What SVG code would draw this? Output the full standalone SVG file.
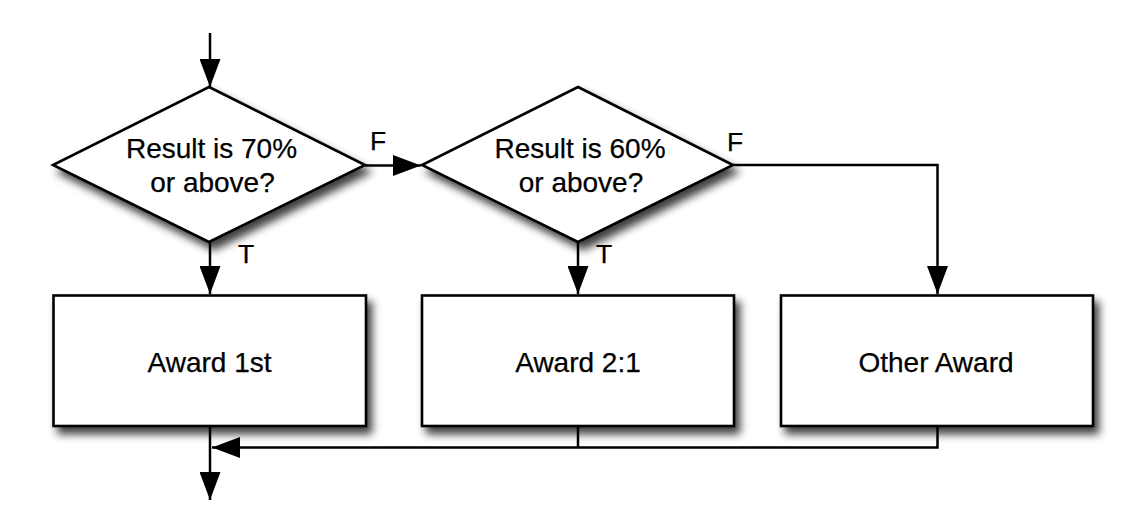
<svg xmlns="http://www.w3.org/2000/svg" width="1122" height="518" viewBox="0 0 1122 518">
<style>
.shape{fill:#ffffff;stroke:#000000;stroke-width:2.6;filter:url(#sh)}
.conn{fill:none;stroke:#000000;stroke-width:2.5}
.txt{font-family:"Liberation Sans",Arial,sans-serif;font-size:28px;fill:#000000;stroke:#000000;stroke-width:0.25;text-anchor:middle}
.lbl{font-family:"Liberation Sans",Arial,sans-serif;font-size:26.5px;fill:#000000;stroke:#000000;stroke-width:0.25}
</style>
<defs>
<filter id="sh" x="-10%" y="-10%" width="125%" height="135%">
<feDropShadow dx="5" dy="7" stdDeviation="4.5" flood-color="#000000" flood-opacity="0.75"/>
</filter>
<marker id="ah" markerUnits="userSpaceOnUse" markerWidth="28" markerHeight="21" refX="28" refY="10.5" orient="auto">
<path d="M0,0 L28,10.5 L0,21 z" fill="#000000"/>
</marker>
</defs>
<g id="d1">
<polygon class="shape" points="209,87 365,165 209,242 53,165"/>
<text class="txt" x="211.5" y="157.5">Result is 70%</text>
<text class="txt" x="212.5" y="192">or above?</text>
</g>
<g id="d2">
<polygon class="shape" points="578,87 733,165 578,242 422,165"/>
<text class="txt" x="580" y="157.5">Result is 60%</text>
<text class="txt" x="581" y="192">or above?</text>
</g>
<g id="b1">
<rect class="shape" x="53.5" y="295.5" width="312.5" height="130.5"/>
<text class="txt" x="209.5" y="372">Award 1st</text>
</g>
<g id="b2">
<rect class="shape" x="422" y="295.5" width="312" height="130.5"/>
<text class="txt" x="578" y="372">Award 2:1</text>
</g>
<g id="b3">
<rect class="shape" x="781" y="295.5" width="312" height="130.5"/>
<text class="txt" x="936" y="372">Other Award</text>
</g>
<g id="connectors">
<line class="conn" x1="210" y1="33" x2="210" y2="87" marker-end="url(#ah)"/>
<line class="conn" x1="365" y1="165.5" x2="421" y2="165.5" marker-end="url(#ah)"/>
<line class="conn" x1="210" y1="242" x2="210" y2="294" marker-end="url(#ah)"/>
<line class="conn" x1="578" y1="242" x2="578" y2="294" marker-end="url(#ah)"/>
<polyline class="conn" points="733,165 937.5,165 937.5,294" marker-end="url(#ah)"/>
<polyline class="conn" points="937.5,426 937.5,447.5 212,447.5" marker-end="url(#ah)"/>
<line class="conn" x1="578" y1="426" x2="578" y2="447.5"/>
<line class="conn" x1="210" y1="426" x2="210" y2="500" marker-end="url(#ah)"/>
<text class="lbl" x="370" y="150">F</text>
<text class="lbl" x="727" y="150.5">F</text>
<text class="lbl" x="238" y="263">T</text>
<text class="lbl" x="596" y="263">T</text>
</g>
</svg>
